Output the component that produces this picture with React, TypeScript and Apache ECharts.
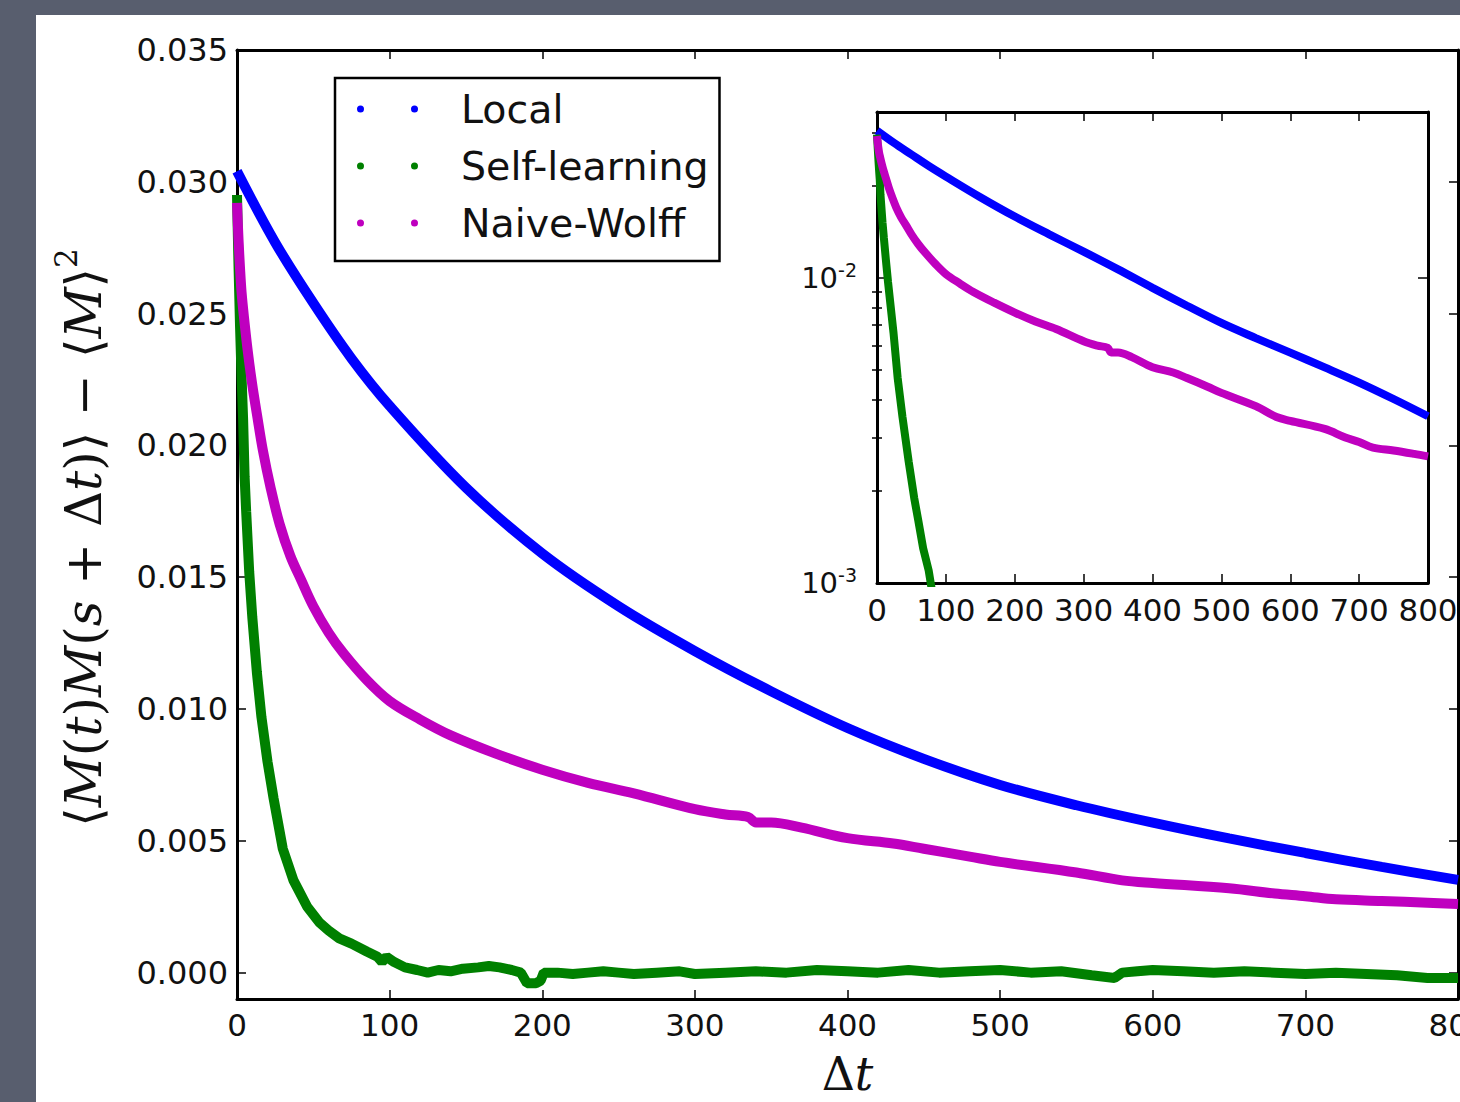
import React, { useEffect, useRef } from "react";
import * as echarts from "echarts";

// ---------- data ----------
const seriesNames = ["Local", "Self-learning", "Naive-Wolff"];

const localT = [0, 25, 50, 75, 100, 150, 200, 250, 300, 350, 400, 450, 500, 550, 600, 650, 700, 750, 800];
const localV = [0.0304, 0.0277, 0.0254, 0.0233, 0.0215, 0.0184, 0.0159, 0.0139, 0.0122, 0.01067, 0.00928, 0.00811, 0.00712, 0.00635, 0.00569, 0.00509, 0.00454, 0.00401, 0.00352];

const selfT = [0, 1, 2, 3, 4, 5, 6, 8, 10, 13, 16, 20, 24, 30, 37, 46, 54, 60, 67, 75, 85, 92, 95, 98, 103, 110, 118, 125, 132, 140, 148, 158, 165, 172, 180, 186, 190, 196, 199, 201, 210, 220, 230, 240, 250, 260, 275, 290, 300, 320, 340, 360, 380, 400, 420, 440, 460, 480, 500, 520, 540, 560, 575, 580, 590, 600, 620, 640, 660, 680, 700, 720, 740, 760, 780, 800];
const selfV = [0.0295, 0.0268, 0.0245, 0.0226, 0.021, 0.0188, 0.0175, 0.0152, 0.0135, 0.0114, 0.0097, 0.008, 0.0066, 0.0047, 0.0035, 0.0025, 0.0019, 0.0016, 0.0013, 0.0011, 0.0008, 0.0006, 0.0004, 0.0006, 0.0004, 0.0002, 0.0001, 0.0, 0.0001, 0.00005, 0.00015, 0.0002, 0.00025, 0.0002, 0.0001, 0.0, -0.0004, -0.0004, -0.0003, 0.0, 0.0, -0.00005, 0.0, 0.00005, 0.0, -0.00005, 0.0, 0.00005, -0.00005, 0.0, 0.00005, 0.0, 0.0001, 0.00005, 0.0, 0.0001, 0.0, 0.00005, 0.0001, 0.0, 0.00005, -0.0001, -0.0002, 0.0, 0.00005, 0.0001, 0.00005, 0.0, 0.00005, 0.0, -0.00005, 0.0, -0.00005, -0.0001, -0.0002, -0.0002];

const naiveT = [0, 1, 2, 3, 4.5, 7, 10, 13, 17, 22, 28, 35, 42, 50, 60, 70, 85, 100, 120, 140, 170, 200, 230, 260, 300, 320, 335, 340, 350, 370, 400, 430, 450, 480, 500, 550, 580, 600, 650, 680, 700, 720, 750, 780, 800];
const naiveV = [0.0292, 0.0278, 0.0267, 0.0258, 0.0249, 0.0236, 0.0223, 0.0212, 0.0198, 0.0184, 0.017, 0.0158, 0.0149, 0.0139, 0.0129, 0.0121, 0.0111, 0.0103, 0.0096, 0.009, 0.0083, 0.0077, 0.0072, 0.0068, 0.0062, 0.006, 0.0059, 0.0057, 0.0057, 0.0055, 0.0051, 0.0049, 0.0047, 0.0044, 0.0042, 0.0038, 0.0035, 0.0034, 0.0032, 0.003, 0.0029, 0.00278, 0.00272, 0.00265, 0.0026];

const xTicks = [0, 100, 200, 300, 400, 500, 600, 700, 800];
const yTicks = [0, 0.005, 0.01, 0.015, 0.02, 0.025, 0.03, 0.035];
const insetMinor = [0.002, 0.003, 0.004, 0.005, 0.006, 0.007, 0.008, 0.009, 0.02, 0.03];

const colors = ["#0000ff", "#008000", "#bf00bf"];

const SANS = "'DejaVu Sans', sans-serif";
const SERIF = "'DejaVu Serif', 'DejaVu Sans', serif";
const INK = "#111";

function pairs(t: number[], v: number[]) {
  return t.map((x, i) => [x, v[i]]);
}

const twoDots =
  "path://M0,3.5a3.5,3.5 0 1,0 7,0a3.5,3.5 0 1,0 -7,0zM54,3.5a3.5,3.5 0 1,0 7,0a3.5,3.5 0 1,0 -7,0z";

export default function App() {
  const ref = useRef<HTMLDivElement>(null);

  useEffect(() => {
    if (!ref.current) return;
    const chart = echarts.init(ref.current, undefined, { renderer: "svg" });

    const axisLine = { show: true, onZero: false, lineStyle: { color: "#000", width: 3 } };
    const tickIn = (len: number, custom?: number[]) => ({
      show: true,
      inside: true,
      length: len,
      lineStyle: { color: "#000", width: 1.5 },
      ...(custom ? { customValues: custom } : {}),
    });

    const main = [
      { v: [localT, localV], name: seriesNames[0], c: colors[0] },
      { v: [selfT, selfV], name: seriesNames[1], c: colors[1] },
      { v: [naiveT, naiveV], name: seriesNames[2], c: colors[2] },
    ];

    const series: any[] = [];
    main.forEach((s, k) => {
      series.push({
        type: "line",
        name: s.name,
        xAxisIndex: 0,
        yAxisIndex: 0,
        data: pairs(s.v[0] as number[], s.v[1] as number[]),
        symbol: "none",
        showSymbol: false,
        smooth: k === 1 ? false : 0.35,
        color: s.c,
        lineStyle: { width: 10, color: s.c },
        z: 3 + k,
      });
    });
    main.forEach((s, k) => {
      const d = pairs(s.v[0] as number[], s.v[1] as number[]).filter((p) => p[1] > 0 && (k !== 1 || p[0] <= 110));
      series.push({
        type: "line",
        name: s.name,
        xAxisIndex: 2,
        yAxisIndex: 2,
        data: d,
        symbol: "none",
        showSymbol: false,
        smooth: k === 1 ? false : 0.35,
        color: s.c,
        lineStyle: { width: 8, color: s.c },
        z: 3 + k,
      });
    });

    const option: any = {
      animation: false,
      grid: [
        { left: 237, top: 50, width: 1221, height: 949, containLabel: false, outerBoundsMode: "none" },
        { left: 877, top: 112, width: 551, height: 471, containLabel: false, outerBoundsMode: "none" },
      ],
      legend: {
        data: seriesNames,
        orient: "vertical",
        left: 335,
        top: 78,
        padding: [11, 11, 18, 22],
        itemGap: 17,
        itemWidth: 61,
        itemHeight: 7,
        icon: twoDots,
        borderColor: "#000",
        borderWidth: 2.5,
        backgroundColor: "#fff",
        selectedMode: false,
        textStyle: { fontFamily: SANS, fontSize: 39.5, color: INK, padding: [0, 0, 0, 38], lineHeight: 40 },
      },
      xAxis: [
        {
          type: "value",
          gridIndex: 0,
          position: "bottom",
          min: 0,
          max: 800,
          interval: 100,
          axisLine,
          axisTick: tickIn(9),
          splitLine: { show: false },
          axisLabel: { fontFamily: SANS, fontSize: 31, color: INK, margin: 10, customValues: xTicks },
          name: "{d|Δ}{i|t}",
          nameLocation: "middle",
          nameGap: 52,
          nameTextStyle: {
            lineHeight: 46,
            rich: {
              d: { fontFamily: SERIF, fontSize: 46, lineHeight: 46, color: INK },
              i: { fontFamily: SERIF, fontSize: 46, lineHeight: 46, fontStyle: "italic", color: INK },
            },
          },
        },
        {
          type: "value",
          gridIndex: 0,
          position: "top",
          min: 0,
          max: 800,
          interval: 100,
          axisLine,
          axisTick: tickIn(9),
          splitLine: { show: false },
          axisLabel: { show: false },
        },
        {
          type: "value",
          gridIndex: 1,
          position: "bottom",
          min: 0,
          max: 800,
          interval: 100,
          axisLine,
          axisTick: tickIn(9),
          splitLine: { show: false },
          axisLabel: { fontFamily: SANS, fontSize: 31, color: INK, margin: 11 },
        },
        {
          type: "value",
          gridIndex: 1,
          position: "top",
          min: 0,
          max: 800,
          interval: 100,
          axisLine,
          axisTick: tickIn(9),
          splitLine: { show: false },
          axisLabel: { show: false },
        },
      ],
      yAxis: [
        {
          type: "value",
          gridIndex: 0,
          position: "left",
          min: -0.001,
          max: 0.035,
          axisLine,
          axisTick: tickIn(9, yTicks),
          splitLine: { show: false },
          axisLabel: {
            fontFamily: SANS,
            fontSize: 32,
            color: INK,
            margin: 9,
            customValues: yTicks,
            formatter: (v: number) => v.toFixed(3),
          },
          name: "{r|⟨}{i|M}{r|(}{i|t}{r|)}{i|M}{r|(}{i|s}{r| + Δ}{i|t}{r|)⟩ − ⟨}{i|M}{r|⟩}{sup|2}",
          nameLocation: "middle",
          nameRotate: 90,
          nameGap: 120,
          nameTextStyle: {
            padding: [0, 26, 0, 0],
            rich: {
              r: { fontFamily: SERIF, fontSize: 50, color: INK },
              i: { fontFamily: SERIF, fontSize: 50, fontStyle: "italic", color: INK },
              sup: { fontFamily: SERIF, fontSize: 31, color: INK, padding: [0, 0, 36, 0] },
            },
          },
        },
        {
          type: "value",
          gridIndex: 0,
          position: "right",
          min: -0.001,
          max: 0.035,
          axisLine,
          axisTick: tickIn(9, yTicks),
          splitLine: { show: false },
          axisLabel: { show: false },
        },
        {
          type: "log",
          logBase: 10,
          gridIndex: 1,
          position: "left",
          min: 0.001,
          max: 0.035,
          axisLine,
          axisTick: tickIn(10),
          splitLine: { show: false },
          axisLabel: {
            margin: 20,
            showMaxLabel: false,
            formatter: (v: number) => {
              const e = Math.log10(v);
              if (Math.abs(e - Math.round(e)) > 1e-6) return "";
              return `{b|10}{s|${Math.round(e)}}`;
            },
            rich: {
              b: { fontFamily: SANS, fontSize: 29, color: INK },
              s: { fontFamily: SANS, fontSize: 19, color: INK, padding: [0, 0, 16, 0] },
            },
          },
        },
        {
          type: "log",
          logBase: 10,
          gridIndex: 1,
          position: "right",
          min: 0.001,
          max: 0.035,
          axisLine,
          axisTick: tickIn(10),
          splitLine: { show: false },
          axisLabel: { show: false },
        },
        {
          type: "value",
          gridIndex: 1,
          position: "left",
          min: Math.log10(0.001),
          max: Math.log10(0.035),
          axisLine: { show: false },
          axisTick: tickIn(5, insetMinor.map((v) => Math.log10(v))),
          splitLine: { show: false },
          axisLabel: { show: false },
        },
        {
          type: "value",
          gridIndex: 1,
          position: "right",
          min: Math.log10(0.001),
          max: Math.log10(0.035),
          axisLine: { show: false },
          axisTick: tickIn(5, insetMinor.map((v) => Math.log10(v))),
          splitLine: { show: false },
          axisLabel: { show: false },
        },
      ],
      series,
    };

    chart.setOption(option);
    return () => chart.dispose();
  }, []);

  return (
    <div style={{ position: "fixed", left: 0, top: 0, width: 1460, height: 1102, background: "#585e6e", overflow: "hidden" }}>
      <div style={{ position: "absolute", left: 36, top: 15, right: 0, bottom: 0, background: "#fff" }} />
      <div ref={ref} style={{ position: "absolute", left: 0, top: 0, width: 1460, height: 1102 }} />
    </div>
  );
}
